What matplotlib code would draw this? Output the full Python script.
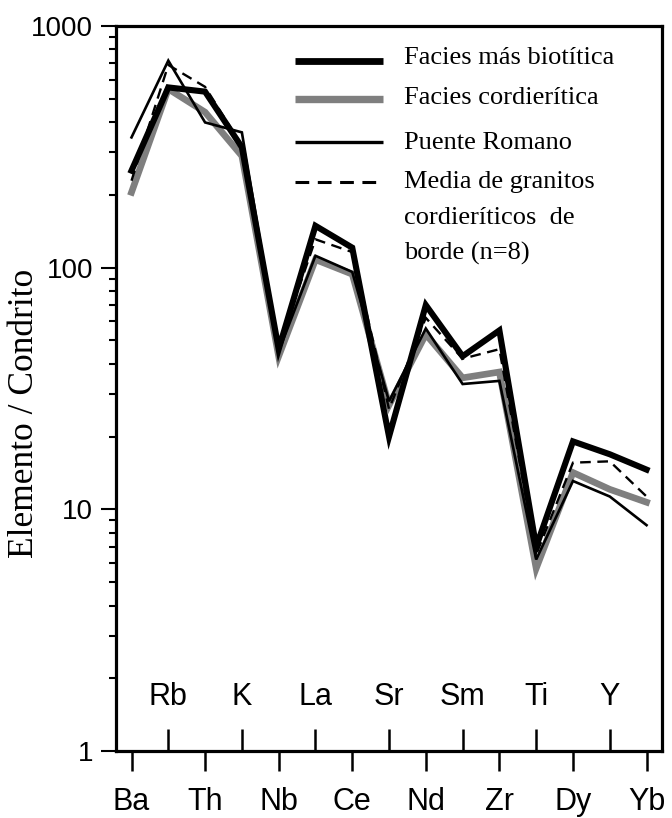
import matplotlib
matplotlib.use('Agg')
import matplotlib.pyplot as plt
from matplotlib.ticker import FixedLocator, LogLocator, NullFormatter, FixedFormatter
import numpy as np

# elementos normalizados a condrito
elements = ['Ba', 'Rb', 'Th', 'K', 'Nb', 'La', 'Ce', 'Sr', 'Nd', 'Sm', 'Zr', 'Ti', 'Dy', 'Y', 'Yb']
biotitica = [252, 557, 535, 315, 46, 149, 121, 20, 70, 43, 55, 7.0, 19.1, 16.9, 14.6]
cordieritica = [205, 549, 440, 290, 43, 108, 94, 27, 53, 35, 37, 5.7, 14.2, 12.1, 10.7]
puente_romano = [346, 719, 399, 363, 45, 112, 96, 28, 56, 33, 34, 6.2, 13.1, 11.3, 8.6]
media_borde = [229, 690, 560, 320, 47, 131, 116, 26, 62, 42, 46, 6.5, 15.6, 15.8, 11.3]

labels = ['Facies más biotítica', 'Facies cordierítica', 'Puente Romano',
          'Media de granitos\ncordieríticos  de\nborde (n=8)']
y_ticks = [1, 10, 100, 1000]

SERIF = ['Liberation Serif', 'DejaVu Serif']
SANS = ['Liberation Sans', 'DejaVu Sans']

x = np.arange(len(elements))

fig = plt.figure(figsize=(6.72, 8.18), dpi=100)
ax = fig.add_axes([115.5 / 672, 1 - 751 / 818, 546.5 / 672, 725 / 818])

styles = [
    dict(color='#7f7f7f', lw=4.8, ls='-', zorder=1),
    dict(color='black', lw=4.4, ls='-', zorder=2),
    dict(color='black', lw=1.9, ls='-', zorder=3),
    dict(color='black', lw=1.7, ls=(0, (4.5, 2.8)), zorder=4),
]
series = [cordieritica, biotitica, puente_romano, media_borde]
for vals, st in zip(series, styles):
    ax.plot(x, vals, color=st['color'], lw=st['lw'], ls=st['ls'], zorder=st['zorder'],
            solid_joinstyle='miter', dash_joinstyle='miter')

ax.set_yscale('log')
ax.set_ylim(1, 1000)
ax.set_xlim(-0.435, 14.42)

# y axis ticks
ax.yaxis.set_major_locator(FixedLocator(y_ticks))
ax.yaxis.set_major_formatter(FixedFormatter([str(v) for v in y_ticks]))
ax.yaxis.set_minor_locator(LogLocator(base=10, subs=np.arange(2, 10)))
ax.yaxis.set_minor_formatter(NullFormatter())
ax.tick_params(axis='y', which='major', direction='out', length=10.8, width=1.5, pad=5.4,
               labelsize=20, right=False)
ax.tick_params(axis='y', which='minor', direction='out', length=5, width=1.5, right=False)
for t in ax.get_yticklabels():
    t.set_family(SANS)

# x axis: alternate ticks outward / inward
ax.xaxis.set_major_locator(FixedLocator(x[0::2]))
ax.xaxis.set_minor_locator(FixedLocator(x[1::2]))
ax.xaxis.set_major_formatter(NullFormatter())
ax.xaxis.set_minor_formatter(NullFormatter())
ax.tick_params(axis='x', which='major', direction='out', length=14.4, width=1.8, top=False)
ax.tick_params(axis='x', which='minor', direction='in', length=15.8, width=1.8, top=False)

trans = ax.get_xaxis_transform()
for i, el in enumerate(elements):
    if i % 2 == 0:
        ax.text(i, -0.0814, el, transform=trans, ha='center', va='baseline',
                fontsize=22, family=SANS, clip_on=False)
    else:
        ax.text(i, 0.0634, el, transform=trans, ha='center', va='baseline',
                fontsize=22, family=SANS)

for sp in ax.spines.values():
    sp.set_linewidth(2.3)

fig.text(25 / 672, 1 - 413 / 818, 'Elemento / Condrito', rotation=90, ha='center', va='center',
         fontsize=25.5, family=SERIF)

# leyenda dibujada a mano
leg_order = [1, 0, 2, 3]
line_y = [0.9517, 0.8993, 0.84, 0.7848]
text_y = [0.9476, 0.8924, 0.8303, 0.7766]
for k, idx in enumerate(leg_order):
    st = styles[idx]
    ax.plot([0.3285, 0.4895], [line_y[k], line_y[k]], transform=ax.transAxes,
            color=st['color'], lw=st['lw'] + 0.5, ls=st['ls'], solid_capstyle='butt',
            dash_capstyle='butt')
    lines = labels[k].split('\n')
    for j, ln in enumerate(lines):
        ax.text(0.528, text_y[k] - j * 0.0497, ln, transform=ax.transAxes, ha='left',
                va='baseline', fontsize=19, family=SERIF)

fig.savefig('out.png', dpi=100)
